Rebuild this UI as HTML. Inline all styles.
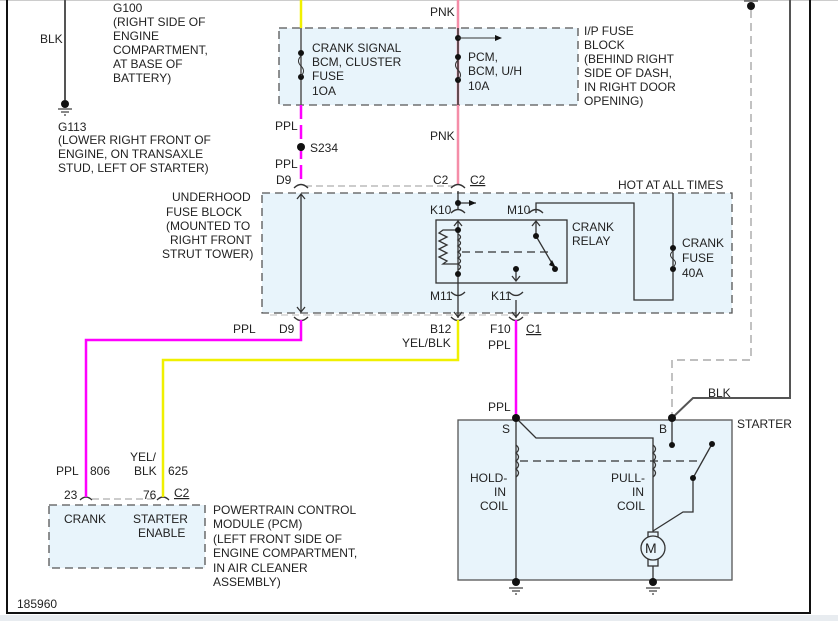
<!DOCTYPE html>
<html><head><style>
body{margin:0;background:#fff;}
svg text{font-family:"Liberation Sans",Arial,sans-serif;font-size:12px;fill:#222;}
</style></head><body>
<svg width="838" height="621" viewBox="0 0 838 621" xmlns="http://www.w3.org/2000/svg">
<rect x="0" y="615" width="838" height="6" fill="#e8ecf0"/>
<line x1="0" y1="0.5" x2="838" y2="0.5" stroke="#ccc"/>
<!-- frame -->
<polyline points="7,0 7,613 810,613 810,0" fill="none" stroke="#111" stroke-width="2"/>
<!-- boxes -->
<g fill="#e8f4fb" stroke="#555" stroke-dasharray="8,5" stroke-width="1.3">
<rect x="279" y="28" width="299" height="77"/>
<rect x="262" y="193" width="470" height="120"/>
<rect x="49" y="505" width="156" height="63"/>
</g>
<rect x="458" y="420" width="274" height="160" fill="#e8f4fb" stroke="#555" stroke-width="1.3"/>
<rect x="436" y="220" width="131" height="63" fill="#e8f4fb" stroke="#333" stroke-width="1.3"/>
<!-- G100/G113 -->
<line x1="65" y1="0" x2="65" y2="100" stroke="#555" stroke-width="2"/>
<circle cx="65" cy="104" r="4" fill="#111"/>
<line x1="58" y1="109" x2="72" y2="109" stroke="#111"/><line x1="61" y1="112" x2="69" y2="112" stroke="#111"/><line x1="64" y1="115" x2="66" y2="115" stroke="#111"/>
<!-- wires -->
<line x1="301" y1="0" x2="301" y2="28" stroke="#f0f000" stroke-width="2.5"/>
<line x1="301" y1="28" x2="301" y2="105" stroke="#555" stroke-width="1.5"/>
<line x1="301" y1="105" x2="301" y2="185" stroke="#ff00ff" stroke-width="2.5" stroke-dasharray="14,6"/>
<circle cx="301" cy="147" r="4" fill="#111"/>
<line x1="458" y1="0" x2="458" y2="185" stroke="#f58da8" stroke-width="2.5"/>
<line x1="458" y1="28" x2="458" y2="105" stroke="#333" stroke-width="1.5"/>
<g fill="#111"><circle cx="301" cy="53" r="3"/><circle cx="301" cy="77" r="3"/><circle cx="458" cy="38" r="3"/><circle cx="458" cy="57" r="3"/><circle cx="458" cy="80" r="3"/></g>
<path d="M301 56 q-5 5 0 10 q5 5 0 10" fill="none" stroke="#333"/>
<path d="M458 60 q-5 5 0 10 q5 5 0 10" fill="none" stroke="#333"/>
<line x1="458" y1="38" x2="496" y2="38" stroke="#333"/><path d="M502 38 l-7 -3 v6z" fill="#111"/>
<!-- top connector dashed -->
<line x1="305" y1="186" x2="455" y2="186" stroke="#999" stroke-dasharray="7,4"/>
<g fill="none" stroke="#333" stroke-width="1.3">
<path d="M294 188 q7 -7 14 0"/><path d="M451 188 q7 -7 14 0"/>
<path d="M294 317 q7 7 14 0"/><path d="M451 317 q7 7 14 0"/><path d="M509 317 q7 7 14 0"/>
<path d="M451 213 q7 -7 14 0"/><path d="M529 213 q7 -7 14 0"/>
<path d="M451 292 q7 7 14 0"/><path d="M509 292 q7 7 14 0"/>
<path d="M80 500 q6 -6 12 0"/><path d="M157 500 q6 -6 12 0"/>
</g>
<line x1="270" y1="315" x2="528" y2="315" stroke="#bbb" stroke-dasharray="7,4"/>
<line x1="92" y1="499" x2="157" y2="499" stroke="#999" stroke-dasharray="7,4"/>
<!-- underhood internals -->
<g stroke="#333" stroke-width="1.3" fill="none">
<line x1="301" y1="195" x2="301" y2="311"/>
<path d="M297 199 l4 -5 4 5 M297 307 l4 5 4 -5"/>
<line x1="458" y1="191" x2="458" y2="210"/>
<line x1="458" y1="203" x2="476" y2="203"/>
<line x1="458" y1="220" x2="458" y2="318"/>
<path d="M454 226 l4 -5 4 5 M454 312 l4 5 4 -5"/>
<line x1="516" y1="300" x2="516" y2="318"/>
<path d="M512 312 l4 5 4 -5"/>
<line x1="516" y1="268" x2="516" y2="280"/><path d="M512 276 l4 5 4 -5"/>
<path d="M536 213 V203 H634 V300 H673 V193"/>
<line x1="536" y1="222" x2="536" y2="236"/><path d="M532 226 l4 -5 4 5"/>
<line x1="536" y1="236" x2="553" y2="265"/>
<path d="M458 230 H443 l-4 3 8 4 -8 4 8 4 -8 4 8 4 -8 4 8 4 -4 3 H458"/>
<path d="M458 234 q5 3 0 6 q5 3 0 6 q5 3 0 6 q5 3 0 6 q5 3 0 6 q5 3 0 6"/>
<line x1="462" y1="252" x2="548" y2="252" stroke-dasharray="8,5"/>
</g>
<path d="M556 268 l-7 -3 3 -5z" fill="#111"/>
<path d="M476 203 l-7 -3 v6z" fill="#111"/>
<g fill="#111"><circle cx="458" cy="203" r="3"/><circle cx="458" cy="230" r="3"/><circle cx="458" cy="274" r="3"/><circle cx="536" cy="236" r="3"/><circle cx="555" cy="269" r="3"/><circle cx="516" cy="269" r="3"/><circle cx="673" cy="248" r="3"/><circle cx="673" cy="269" r="3"/></g>
<path d="M673 251 q-5 4 0 8 q5 4 0 8" fill="none" stroke="#333"/>
<!-- lower wires -->
<polyline points="301,320 301,340 86,340 86,497" fill="none" stroke="#ff00ff" stroke-width="2.5"/>
<polyline points="458,320 458,360 163,360 163,497" fill="none" stroke="#f0f000" stroke-width="2.5"/>
<line x1="516" y1="320" x2="516" y2="418" stroke="#ff00ff" stroke-width="2.5"/>
<!-- right side -->
<circle cx="751" cy="6" r="4" fill="#111"/><line x1="744" y1="1" x2="758" y2="1" stroke="#111"/>
<polyline points="751,10 751,360 672,360 672,418" fill="none" stroke="#999" stroke-dasharray="8,5" stroke-width="1.2"/>
<polyline points="790,0 790,398 693,398 672,418" fill="none" stroke="#555" stroke-width="2"/>
<!-- starter internals -->
<g stroke="#333" stroke-width="1.3" fill="none">
<line x1="516" y1="418" x2="516" y2="582"/>
<path d="M516 418 L536 438 H653 V532"/>
<path d="M516 445 q5 4 0 8 q5 4 0 8 q5 4 0 8 q5 4 0 8"/>
<path d="M653 445 q5 4 0 8 q5 4 0 8 q5 4 0 8 q5 4 0 8"/>
<line x1="520" y1="461" x2="700" y2="461" stroke-dasharray="8,5"/>
<line x1="672" y1="418" x2="672" y2="445"/>
<line x1="693" y1="478" x2="712" y2="444"/>
<path d="M653 531 L683 512 H693 V478"/>
<rect x="648" y="532" width="10" height="34"/>
<circle cx="653" cy="548" r="12" fill="#e8f4fb"/>
<line x1="653" y1="566" x2="653" y2="582"/>
</g>
<g fill="#111"><circle cx="516" cy="418" r="4"/><circle cx="672" cy="418" r="4"/><circle cx="672" cy="445" r="3"/><circle cx="712" cy="444" r="3"/><circle cx="693" cy="478" r="3"/><circle cx="516" cy="582" r="4"/><circle cx="653" cy="582" r="4"/></g>
<g stroke="#111"><line x1="509" y1="588" x2="523" y2="588"/><line x1="512" y1="591" x2="520" y2="591"/><line x1="515" y1="594" x2="517" y2="594"/><line x1="646" y1="588" x2="660" y2="588"/><line x1="649" y1="591" x2="657" y2="591"/><line x1="652" y1="594" x2="654" y2="594"/></g>
<text x="645" y="553" style="font-size:14px">M</text>
<!-- texts -->
<text x="40" y="43">BLK</text>
<text x="113" y="12">G100</text><text x="113" y="26">(RIGHT SIDE OF</text><text x="113" y="40">ENGINE</text><text x="113" y="54">COMPARTMENT,</text><text x="113" y="68">AT BASE OF</text><text x="113" y="82">BATTERY)</text>
<text x="58" y="131">G113</text><text x="58" y="144">(LOWER RIGHT FRONT OF</text><text x="58" y="158">ENGINE, ON TRANSAXLE</text><text x="58" y="172">STUD, LEFT OF STARTER)</text>
<text x="312" y="52">CRANK SIGNAL</text><text x="312" y="66">BCM, CLUSTER</text><text x="312" y="80">FUSE</text><text x="312" y="95">1OA</text>
<text x="430" y="16">PNK</text><text x="468" y="61">PCM,</text><text x="468" y="75">BCM, U/H</text><text x="468" y="90">10A</text>
<text x="584" y="35">I/P FUSE</text><text x="584" y="49">BLOCK</text><text x="584" y="63">(BEHIND RIGHT</text><text x="584" y="77">SIDE OF DASH,</text><text x="584" y="91">IN RIGHT DOOR</text><text x="584" y="105">OPENING)</text>
<text x="275" y="130">PPL</text><text x="310" y="152">S234</text><text x="275" y="168">PPL</text><text x="276" y="184">D9</text>
<text x="430" y="140">PNK</text><text x="433" y="184">C2</text><text x="470" y="184" text-decoration="underline">C2</text>
<text x="618" y="189">HOT AT ALL TIMES</text>
<text x="172" y="201">UNDERHOOD</text><text x="166" y="216">FUSE BLOCK</text><text x="166" y="230">(MOUNTED TO</text><text x="170" y="244">RIGHT FRONT</text><text x="162" y="258">STRUT TOWER)</text>
<text x="430" y="214">K10</text><text x="507" y="214">M10</text><text x="572" y="231">CRANK</text><text x="572" y="245">RELAY</text>
<text x="682" y="247">CRANK</text><text x="682" y="262">FUSE</text><text x="682" y="277">40A</text>
<text x="430" y="300">M11</text><text x="491" y="300">K11</text>
<text x="233" y="333">PPL</text><text x="279" y="333">D9</text><text x="430" y="333">B12</text><text x="402" y="347">YEL/BLK</text>
<text x="490" y="333">F10</text><text x="526" y="333" text-decoration="underline">C1</text><text x="488" y="349">PPL</text>
<text x="488" y="411">PPL</text><text x="502" y="433">S</text><text x="659" y="433">B</text><text x="708" y="397">BLK</text><text x="737" y="428">STARTER</text>
<text x="470" y="482">HOLD-</text><text x="494" y="496">IN</text><text x="480" y="510">COIL</text>
<text x="611" y="482">PULL-</text><text x="632" y="496">IN</text><text x="617" y="510">COIL</text>
<text x="130" y="461">YEL/</text><text x="134" y="475">BLK</text><text x="168" y="475">625</text>
<text x="56" y="475">PPL</text><text x="90" y="475">806</text>
<text x="64" y="499">23</text><text x="143" y="499">76</text><text x="174" y="497" text-decoration="underline">C2</text>
<text x="64" y="523">CRANK</text><text x="133" y="523">STARTER</text><text x="138" y="537">ENABLE</text>
<text x="213" y="514">POWERTRAIN CONTROL</text><text x="213" y="528">MODULE (PCM)</text><text x="213" y="543">(LEFT FRONT SIDE OF</text><text x="213" y="557">ENGINE COMPARTMENT,</text><text x="213" y="572">IN AIR CLEANER</text><text x="213" y="586">ASSEMBLY)</text>
<text x="17" y="608">185960</text>
</svg>
</body></html>
